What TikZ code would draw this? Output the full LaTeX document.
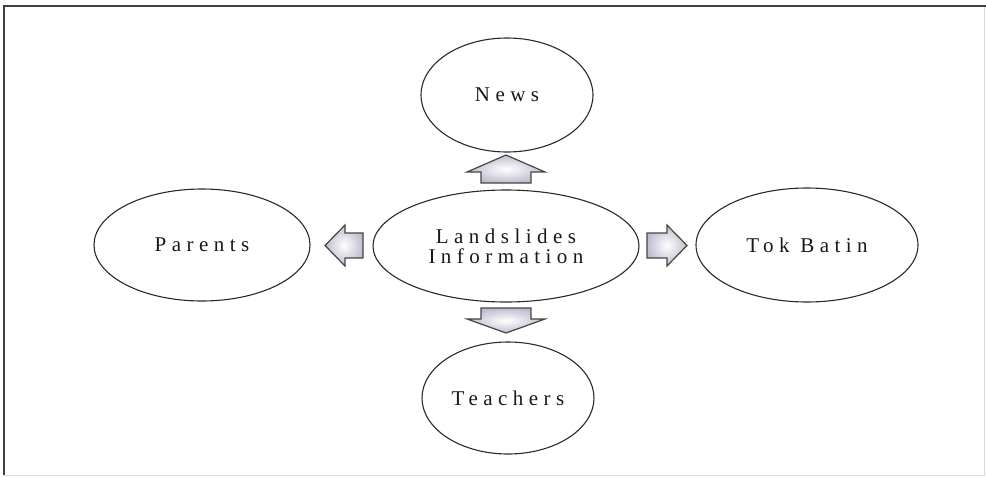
\documentclass[tikz,border=0pt]{standalone}
\usepackage{fontspec}
\setmainfont{Liberation Serif}[LetterSpace=26]
\usetikzlibrary{shapes.geometric}
\definecolor{edgegray}{HTML}{2A2A2A}
\definecolor{arrowfill}{HTML}{BDBDCF}
\definecolor{arrowedge}{HTML}{454545}
\tikzset{
  bubble/.style={ellipse, draw=edgegray, line width=1.1pt, fill=white, inner sep=0pt,
    font=\fontsize{21}{20}\selectfont, align=center, text=black!90},
  blockarrow/.style={draw=arrowedge, line width=1.2pt, line join=miter,
    inner color=white, outer color=arrowfill},
  frameline/.style={line width=2pt, draw=black!75},
  lightframe/.style={line width=1pt, draw=black!15}
}
\begin{document}
\begin{tikzpicture}[x=1pt,y=-1pt]
\useasboundingbox (0,0) rectangle (986,477);
% frame
\draw[lightframe] (984,6) -- (984,475) -- (4,475);
\draw[frameline] (4,475) -- (4,6) -- (986,6);
% ellipses
\node[bubble, minimum width=172pt, minimum height=114pt] (news) at (507,95) {News};
\node[bubble, minimum width=266pt, minimum height=112pt] (info) at (506,246) {Landslides\\Information};
\node[bubble, minimum width=216pt, minimum height=112pt] (parents) at (202,245) {Parents};
\node[bubble, minimum width=222pt, minimum height=114pt] (tok) at (807,245) {Tok Batin};
\node[bubble, minimum width=172pt, minimum height=112pt] (teachers) at (508,398) {Teachers};
% block arrows
% up (to News)
\draw[blockarrow] (481,183) -- (481,172) -- (467,172) -- (506,155) -- (545,172) -- (531,172) -- (531,183) -- cycle;
% down (to Teachers)
\draw[blockarrow] (481,308) -- (531,308) -- (531,319) -- (545,319) -- (506,333) -- (467,319) -- (481,319) -- cycle;
% left (to Parents)
\draw[blockarrow] (363,233) -- (345,233) -- (345,225) -- (325,245.5) -- (345,266) -- (345,258) -- (363,258) -- cycle;
% right (to Tok Batin)
\draw[blockarrow] (647,233) -- (667,233) -- (667,225) -- (687,245.5) -- (667,266) -- (667,258) -- (647,258) -- cycle;
\end{tikzpicture}
\end{document}
